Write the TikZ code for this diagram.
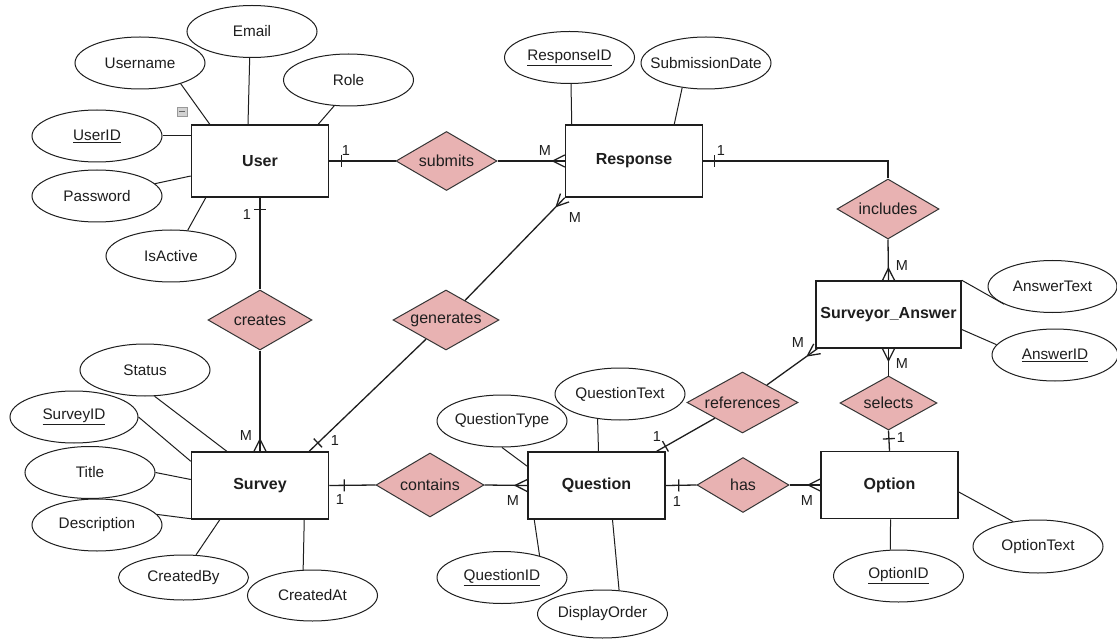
\documentclass[tikz,border=0pt]{standalone}
\usepackage{fontspec}
\setmainfont{Liberation Sans}
\usetikzlibrary{shapes.geometric,decorations.markings}
\definecolor{relpink}{RGB}{232,178,178}
\definecolor{inkc}{RGB}{30,30,30}
\tikzset{
  ent/.style={draw=inkc, line width=1.5pt, fill=white, minimum width=137pt, minimum height=72pt, inner sep=0pt, text=inkc, font=\bfseries\fontsize{16}{19}\selectfont},
  attr/.style={ellipse, draw=inkc, line width=1pt, fill=white, minimum width=130pt, minimum height=52pt, inner xsep=-14pt, inner ysep=0pt, text=inkc, font=\fontsize{15.3}{18}\selectfont},
  rel/.style={diamond, draw=inkc!90, line width=1pt, fill=relpink, inner sep=0pt, aspect=1.8, text=inkc, font=\fontsize{16}{19}\selectfont},
  conn/.style={line width=1.3pt, draw=inkc},
  alink/.style={line width=1pt, draw=inkc},
  card/.style={inner sep=0pt, text=inkc, font=\fontsize{14.5}{17}\selectfont},
  manyend/.style={postaction={decorate}, decoration={markings, mark=at position 1 with {\draw[line width=1.3pt, inkc] (-12pt,0pt) -- (0pt,6pt) (-12pt,0pt) -- (0pt,-6pt);}}},
  onemark/.style={postaction={decorate}, decoration={markings, mark=at position #1 with {\draw[line width=1.3pt, inkc] (0pt,-6pt) -- (0pt,6pt);}}},
}
\begin{document}
\begin{tikzpicture}[x=1pt,y=-1pt]
\useasboundingbox (0,0) rectangle (1117,639);
\fill[white] (0,0) rectangle (1117,639);

% entities
\node[ent] (user) at (260,161) {User};
\node[ent] (resp) at (634,161) {Response};
\node[ent, minimum width=145pt, minimum height=67pt] (sa) at (888.5,314.5) {Surveyor\_Answer};
\node[ent, minimum height=67pt] (survey) at (260,485.5) {Survey};
\node[ent, minimum height=67pt] (question) at (596.5,485.5) {Question};
\node[ent, minimum height=67pt] (option) at (889.5,485) {Option};

% relationships
\node[rel, minimum width=101pt, minimum height=59pt] (submits) at (446.5,161) {submits};
\node[rel, minimum width=102pt, minimum height=60pt] (includes) at (888,209) {includes};
\node[rel, minimum width=104pt, minimum height=60pt] (creates) at (260,320) {creates};
\node[rel, minimum width=106pt, minimum height=60pt] (generates) at (446,320) {generates};
\node[rel, minimum width=111pt, minimum height=61pt] (references) at (742.5,402.5) {references};
\node[rel, minimum width=97pt, minimum height=54pt] (selects) at (888.5,403) {selects};
\node[rel, minimum width=108pt, minimum height=64pt] (contains) at (430,485) {contains};
\node[rel, minimum width=92pt, minimum height=55pt] (has) at (743,485) {has};

% attributes
\node[attr] (email) at (252,31.5) {Email};
\node[attr] (username) at (140,63) {Username};
\node[attr] (role) at (348.5,80) {Role};
\node[attr] (userid) at (97,136) {\underline{UserID}};
\node[attr] (password) at (97,196) {Password};
\node[attr] (isactive) at (171,256) {IsActive};
\node[attr] (responseid) at (569.5,57.5) {\underline{ResponseID}};
\node[attr] (subdate) at (706,63) {SubmissionDate};
\node[attr, minimum width=129pt] (answertext) at (1052.5,286.5) {AnswerText};
\node[attr, minimum width=126pt] (answerid) at (1055,355) {\underline{AnswerID}};
\node[attr] (status) at (145,370) {Status};
\node[attr, minimum width=128pt] (surveyid) at (74,417) {\underline{SurveyID}};
\node[attr] (title) at (90,472.5) {Title};
\node[attr] (description) at (97,525) {Description};
\node[attr, minimum height=45pt] (createdby) at (183.5,577.5) {CreatedBy};
\node[attr, minimum height=51pt] (createdat) at (312.5,595.5) {CreatedAt};
\node[attr] (questiontype) at (502,421) {QuestionType};
\node[attr] (questiontext) at (620,394) {QuestionText};
\node[attr] (questionid) at (502,577.5) {\underline{QuestionID}};
\node[attr, minimum height=48pt] (displayorder) at (602.5,614) {DisplayOrder};
\node[attr] (optionid) at (898.5,576) {\underline{OptionID}};
\node[attr, minimum height=53pt] (optiontext) at (1038,546.5) {OptionText};

% attribute links
\draw[alink] (email.-95) -- ([xshift=-12pt]user.north);
\draw[alink] (username.-27) -- ([xshift=19pt]user.north west);
\draw[alink] (role.-119) -- ([xshift=-11pt]user.north east);
\draw[alink] (userid.east) -- ([yshift=25pt]user.west);
\draw[alink] (password.12) -- ([yshift=-15pt]user.west);
\draw[alink] (isactive.57) -- ([xshift=15pt]user.south west);
\draw[alink] ([xshift=1.5pt]responseid.south) -- ([xshift=7pt]resp.north west);
\draw[alink] (subdate.-134) -- ([xshift=-29pt]resp.north east);
\draw[alink] (sa.north east) -- (answertext.200);
\draw[alink] ([yshift=-15pt]sa.east) -- (answerid.170);
\draw[alink] (status.-70) -- ([xshift=36pt]survey.north west);
\draw[alink] (surveyid.east) -- ([yshift=-10pt]survey.north west);
\draw[alink] (title.east) -- ([yshift=6pt]survey.west);
\draw[alink] (description.10) -- ([yshift=1pt]survey.south west);
\draw[alink] (createdby.61) -- ([xshift=29pt]survey.south west);
\draw[alink] (createdat.110) -- ([xshift=-25pt]survey.south east);
\draw[alink] (questiontype.south) -- ([yshift=-15pt]question.north west);
\draw[alink] (questiontext.228) -- ([xshift=2pt]question.north);
\draw[alink] (questionid.30) -- ([xshift=7pt]question.south west);
\draw[alink] (displayorder.55) -- ([xshift=16pt]question.south);
\draw[alink] (optionid.107) -- ([xshift=1pt]option.south);
\draw[alink] (optiontext.135) -- ([yshift=-7pt]option.east);

% relationship connectors
\draw[conn, onemark=12pt] (user.east) -- (submits.west);
\draw[conn, manyend] (submits.east) -- (resp.west);
\draw[conn, onemark=11pt] (resp.east) -| (includes.north);
\draw[conn, manyend] (includes.south) -- (sa.north);
\draw[conn, manyend] (selects.north) -- (sa.south);
\draw[conn, onemark=-12pt] (selects.south) -- (option.north);
\draw[conn, manyend] (references) -- ([xshift=2pt]sa.south west);
\draw[conn, onemark=-10pt] (references) -- ([xshift=-9pt]question.north east);
\draw[conn, onemark=13pt] (question.east) -- (has.west);
\draw[conn, manyend] (has.east) -- (option.west);
\draw[conn, manyend] (contains.east) -- (question.west);
\draw[conn, onemark=15pt] (survey.east) -- (contains.west);
\draw[conn, onemark=12pt] (user.south) -- (creates.north);
\draw[conn, manyend] (creates.south) -- (survey.north);
\draw[conn, manyend] (generates) -- (resp.south west);
\draw[conn, onemark=-12pt] (generates) -- ([xshift=-20pt]survey.north east);

% cardinalities
\node[card] (c1) at (346,151) {1};
\node[card] (c2) at (545,151) {M};
\node[card] (c3) at (721,151) {1};
\node[card] (c4) at (902,266) {M};
\node[card] (c5) at (902,364) {M};
\node[card] (c6) at (901,438) {1};
\node[card] (c7) at (798,343) {M};
\node[card] (c8) at (657,437) {1};
\node[card] (c9) at (677,502) {1};
\node[card] (c10) at (807,501) {M};
\node[card] (c11) at (513,501) {M};
\node[card] (c12) at (340,500) {1};
\node[card] (c13) at (247,215) {1};
\node[card] (c14) at (246,436) {M};
\node[card] (c15) at (575,218) {M};
\node[card] (c16) at (335,441) {1};

% collapse icon
\node[draw=gray!80, fill=gray!35, minimum width=10pt, minimum height=9pt, inner sep=0pt] (collapse) at (182,112) {};
\draw[line width=1pt, black!60] ([xshift=-3pt]collapse.center) -- ([xshift=3pt]collapse.center);
\end{tikzpicture}
\end{document}
